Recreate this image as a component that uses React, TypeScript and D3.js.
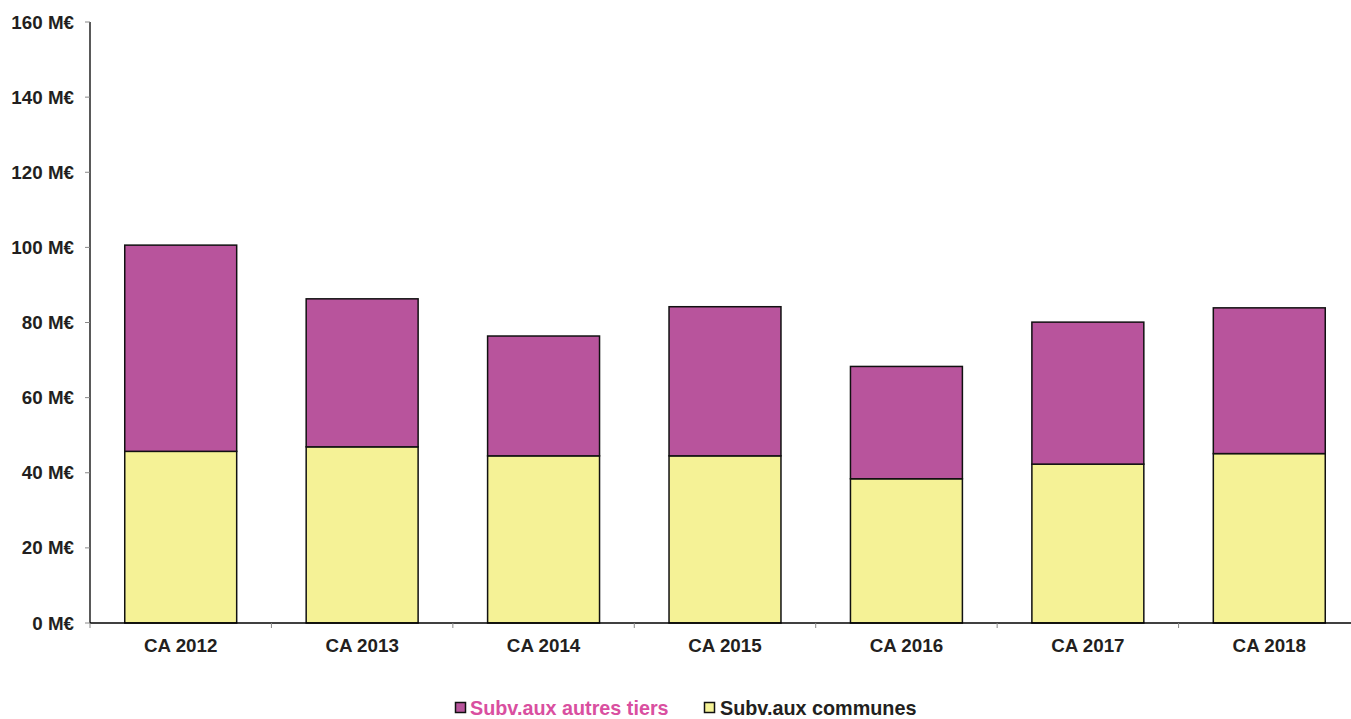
import React from "react";
import * as d3 from "d3";

const categories = ["CA 2012", "CA 2013", "CA 2014", "CA 2015", "CA 2016", "CA 2017", "CA 2018"];
const communes = [45.7, 46.9, 44.5, 44.5, 38.4, 42.3, 45.1];
const autresTiers = [54.9, 39.4, 31.9, 39.7, 29.9, 37.8, 38.8];
const yTicks = [0, 20, 40, 60, 80, 100, 120, 140, 160];
const seriesNames = ["Subv.aux autres tiers", "Subv.aux communes"];

const W = 1351;
const H = 719;
const FONT = "'Liberation Sans', Arial, sans-serif";
const PURPLE = "#B8549C";
const YELLOW = "#F5F296";

export default function App() {
  const x = d3
    .scaleBand<string>()
    .domain(categories)
    .range([90, 1360])
    .paddingInner(0.383)
    .paddingOuter(0.1915);
  const y = d3.scaleLinear().domain([0, 160]).range([623, 22]);
  const step = x.step();
  const bounds = categories.map((_, i) => 90 + i * step);

  return (
    <svg
      width={W}
      height={H}
      style={{ position: "absolute", left: 0, top: 0, background: "#fff" }}
      fontFamily={FONT}
    >
      {/* bars */}
      {categories.map((c, i) => {
        const x0 = x(c)!;
        const bw = x.bandwidth();
        const c0 = y(0);
        const c1 = y(communes[i]);
        const t1 = y(communes[i] + autresTiers[i]);
        return (
          <g key={c}>
            <rect x={x0} y={c1} width={bw} height={c0 - c1} fill={YELLOW} stroke="#111" strokeWidth={1.5} />
            <rect x={x0} y={t1} width={bw} height={c1 - t1} fill={PURPLE} stroke="#111" strokeWidth={1.5} />
          </g>
        );
      })}
      {/* y axis */}
      <line x1={90} x2={90} y1={y(160)} y2={y(0)} stroke="#000" strokeWidth={1.3} />
      {yTicks.map((t) => (
        <g key={t}>
          <line x1={85} x2={90} y1={y(t)} y2={y(t)} stroke="#888" strokeWidth={1} />
          <text
            x={74}
            y={y(t)}
            dy="0.35em"
            textAnchor="end"
            fontSize={18.8}
            fontWeight="bold"
            fill="#231F20"
          >
            {t} M€
          </text>
        </g>
      ))}
      {/* x axis */}
      <line x1={90} x2={1360} y1={y(0)} y2={y(0)} stroke="#000" strokeWidth={1.3} />
      {bounds.map((b, i) => (
        <line key={i} x1={b} x2={b} y1={y(0)} y2={y(0) + 5} stroke="#888" strokeWidth={1} />
      ))}
      {categories.map((c) => (
        <text
          key={c}
          x={x(c)! + x.bandwidth() / 2}
          y={645}
          dy="0.35em"
          textAnchor="middle"
          fontSize={18.8}
          fontWeight="bold"
          fill="#231F20"
        >
          {c}
        </text>
      ))}
      {/* legend */}
      <g>
        <rect x={455.5} y={702.5} width={10} height={10} fill={PURPLE} stroke="#111" strokeWidth={1.5} />
        <text x={470} y={708} dy="0.35em" fontSize={19.8} fontWeight="bold" fill="#D94FA0">
          {seriesNames[0]}
        </text>
        <rect x={704.5} y={702.5} width={10} height={10} fill={YELLOW} stroke="#111" strokeWidth={1.5} />
        <text x={720} y={708} dy="0.35em" fontSize={19.8} fontWeight="bold" fill="#231F20">
          {seriesNames[1]}
        </text>
      </g>
    </svg>
  );
}
